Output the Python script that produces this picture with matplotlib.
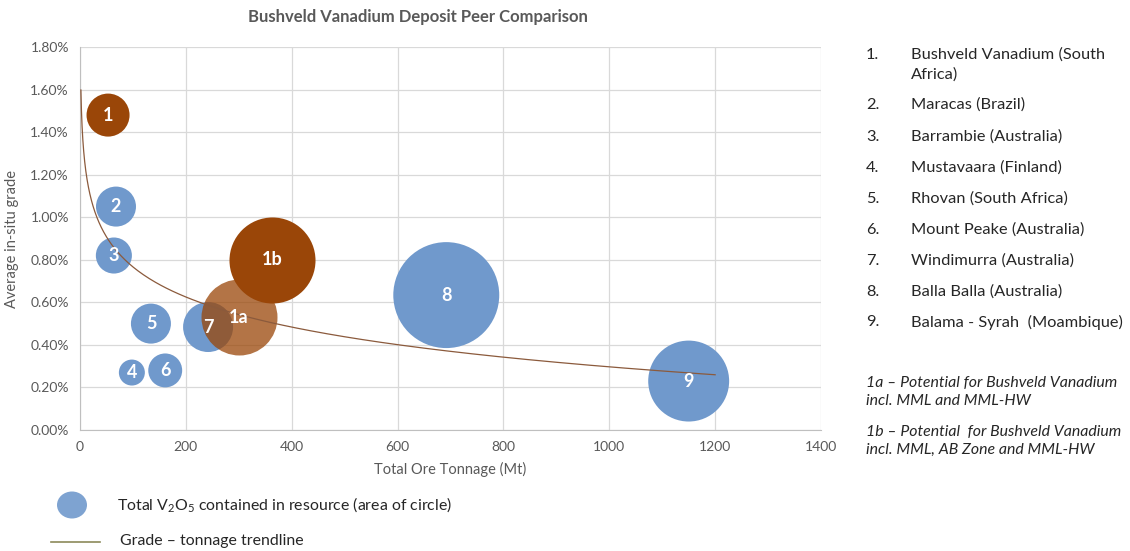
import matplotlib
matplotlib.use("Agg")
import matplotlib.pyplot as plt
from matplotlib.patches import Ellipse
from matplotlib.lines import Line2D
import numpy as np

plt.rcParams['font.family'] = ['Lato', 'DejaVu Sans']
plt.rcParams['mathtext.fontset'] = 'custom'
plt.rcParams['mathtext.rm'] = 'Lato'

# deposits: label, tonnage (Mt), grade (%), contained V2O5 (Mt, bubble area)
labels = ['1', '2', '3', '4', '5', '6', '7', '8', '9']
tonnage = [53, 68, 64, 98, 134, 161, 242, 692, 1150]
grade = [1.48, 1.05, 0.82, 0.27, 0.50, 0.28, 0.484, 0.634, 0.23]
contained = [0.74, 0.64, 0.52, 0.27, 0.64, 0.46, 1.00, 4.49, 2.62]

# bushveld potential scenarios
pot_labels = ['1b', '1a']
pot_tonnage = [363, 300]
pot_grade = [0.80, 0.53]
pot_contained = [2.96, 2.31]

names = ['Bushveld Vanadium (South', 'Maracas (Brazil)', 'Barrambie (Australia)',
         'Mustavaara (Finland)', 'Rhovan (South Africa)', 'Mount Peake (Australia)',
         'Windimurra (Australia)', 'Balla Balla (Australia)', 'Balama - Syrah  (Moambique)']
notes = ['1a \u2013 Potential for Bushveld Vanadium\nincl. MML and MML-HW',
         '1b \u2013 Potential  for Bushveld Vanadium\nincl. MML, AB Zone and MML-HW']

# trendline (log fit)
trend_x = [1.7, 1200]
trend_a, trend_b = 1.706, -0.204

blue = '#7099cc'
brown = '#9a4608'
grey = '#595959'
dark = '#262626'
size_scale = 1296  # pt^2 per Mt contained

fig = plt.figure(figsize=(11.3, 5.51), dpi=100)
ax = fig.add_axes([80 / 1130, 121 / 551, 741 / 1130, 383 / 551])

colors = [brown] + [blue] * 8
ax.scatter(tonnage, grade, s=np.array(contained) * size_scale,
           c=colors, linewidths=0, zorder=3)
ax.scatter(pot_tonnage[0], pot_grade[0], s=pot_contained[0] * size_scale,
           c=brown, linewidths=0, zorder=4)
ax.scatter(pot_tonnage[1], pot_grade[1], s=pot_contained[1] * size_scale,
           c=brown, alpha=0.75, linewidths=0, zorder=5)

for lb, x, y in zip(labels + pot_labels, tonnage + pot_tonnage, grade + pot_grade):
    ax.text(x, y, lb, color='white', fontsize=13, fontweight='bold',
            ha='center', va='center', zorder=7)

tx = np.geomspace(trend_x[0], trend_x[1], 300)
ax.plot(tx, trend_a + trend_b * np.log(tx), color='#8b5a3c', lw=0.9, zorder=6)

ax.set_xlim(0, 1400)
ax.set_ylim(0, 1.8)
ax.set_xticks(np.arange(0, 1401, 200))
ax.set_yticks(np.arange(0, 1.81, 0.2))
ax.set_yticklabels(['%.2f%%' % v for v in np.arange(0, 1.81, 0.2)])
ax.grid(True, color='#d9d9d9', lw=0.9, zorder=0)
ax.set_axisbelow(True)
for side in ['top', 'right']:
    ax.spines[side].set_visible(False)
for side in ['left', 'bottom']:
    ax.spines[side].set_color('#bfbfbf')
ax.tick_params(length=0, colors=grey, labelsize=10, pad=8)
ax.set_xlabel('Total Ore Tonnage (Mt)', color=grey, fontsize=10.5, labelpad=6)
ax.set_ylabel('Average in-situ grade', color=grey, fontsize=10.5, labelpad=8)

fig.text(418 / 1130, 1 - 17 / 551, 'Bushveld Vanadium Deposit Peer Comparison',
         ha='center', va='center', fontsize=12, fontweight='bold', color=grey)

# numbered list on the right
row_y = [55, 105, 137, 168, 199, 230, 261, 292, 322]
for i, (nm, yy) in enumerate(zip(names, row_y)):
    fig.text(866 / 1130, 1 - yy / 551, '%d.' % (i + 1), fontsize=11.8, color=dark,
             va='center')
    fig.text(911 / 1130, 1 - yy / 551, nm, fontsize=11.8, color=dark, va='center')
fig.text(911 / 1130, 1 - 75 / 551, 'Africa)', fontsize=11.8, color=dark, va='center')
for nm, yy in zip(notes, [383, 432]):
    fig.text(866 / 1130, 1 - yy / 551, nm.split('\n')[0], fontsize=11.4,
             style='italic', color=dark, va='center')
    fig.text(866 / 1130, 1 - (yy + 18) / 551, nm.split('\n')[1], fontsize=11.4,
             style='italic', color=dark, va='center')

# bottom legend
fig.patches.append(Ellipse((72 / 1130, 1 - 505 / 551), 30 / 1130, 27 / 551,
                           transform=fig.transFigure, color='#7ea3d1', lw=0))
fig.text(117 / 1130, 1 - 505 / 551,
         'Total V$_2$O$_5$ contained in resource (area of circle)',
         fontsize=11.4, color=dark, va='center')
fig.lines.append(Line2D([51 / 1130, 100 / 1130], [1 - 542 / 551] * 2,
                        transform=fig.transFigure, color='#8c8a5a', lw=1.2))
fig.text(120 / 1130, 1 - 541 / 551, 'Grade \u2013 tonnage trendline',
         fontsize=11.4, color=dark, va='center')

fig.savefig('out.png', dpi=100)
